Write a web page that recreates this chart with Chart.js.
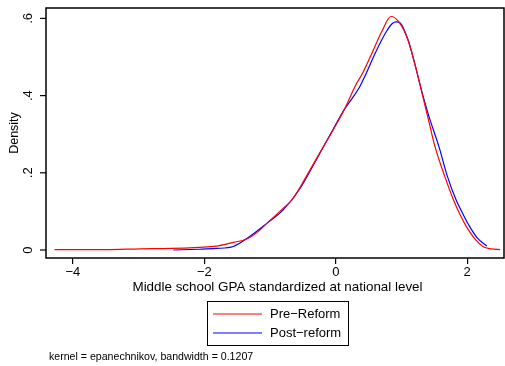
<!DOCTYPE html>
<html>
<head>
<meta charset="utf-8">
<script src="https://cdn.jsdelivr.net/npm/chart.js@4/dist/chart.umd.min.js"></script>
<style>
  html, body { margin: 0; padding: 0; background: #fff; }
  #wrap { width: 505px; height: 366px; }
</style>
</head>
<body>
<div id="wrap"><canvas id="grafico"></canvas></div>
<script>
// values
const preX = [-4.28, -3.5, -2.98, -2.5, -2.08, -1.82, -1.56, -1.36, -1.2, -1.05, -0.85, -0.65, -0.45, -0.27, -0.04, 0.14, 0.29, 0.42, 0.55, 0.7, 0.84, 0.96, 1.1, 1.2, 1.3, 1.4, 1.51, 1.66, 1.79, 1.89, 1.99, 2.12, 2.24, 2.36, 2.5];
const preY = [0.001, 0.001, 0.003, 0.004, 0.007, 0.010, 0.020, 0.028, 0.045, 0.069, 0.100, 0.134, 0.190, 0.244, 0.311, 0.367, 0.423, 0.462, 0.510, 0.566, 0.605, 0.591, 0.544, 0.484, 0.415, 0.345, 0.268, 0.190, 0.130, 0.092, 0.060, 0.028, 0.009, 0.003, 0.001];
const postX = [-2.47, -2.08, -1.82, -1.56, -1.31, -1.05, -0.8, -0.55, -0.29, -0.04, 0.14, 0.25, 0.365, 0.44, 0.6, 0.77, 0.86, 0.92, 0.98, 1.1, 1.2, 1.3, 1.42, 1.57, 1.7, 1.83, 1.93, 2.04, 2.16, 2.3];
const postY = [0.0, 0.002, 0.004, 0.009, 0.035, 0.069, 0.104, 0.158, 0.236, 0.313, 0.367, 0.393, 0.423, 0.449, 0.510, 0.566, 0.587, 0.591, 0.588, 0.544, 0.484, 0.417, 0.345, 0.268, 0.190, 0.130, 0.095, 0.060, 0.030, 0.010];
const seriesNames = ['Pre\u2212Reform', 'Post\u2212reform'];
const xTicks = [-4, -2, 0, 2];
const yTicks = [0, 0.2, 0.4, 0.6];
const yTickLabels = ['0', '.2', '.4', '.6'];
const xTitle = 'Middle school GPA standardized at national level';
const yTitle = 'Density';
const note = 'kernel = epanechnikov, bandwidth = 0.1207';

const FONT = '"Liberation Sans", Arial, Helvetica, sans-serif';

function pares(xs, ys) {
    return xs.map((x, i) => ({ x: x, y: ys[i] }));
}

const extras = {
    id: 'extras',
    afterDraw(chart) {
        const c = chart.ctx;
        const a = chart.chartArea;
        const ys = chart.scales.y;
        c.save();
        // box round the plot
        c.strokeStyle = '#000';
        c.lineWidth = 1.5;
        c.strokeRect(a.left, a.top, a.right - a.left, a.bottom - a.top);

        // y ticks, rotated labels
        c.fillStyle = '#000';
        c.font = '13px ' + FONT;
        c.textAlign = 'center';
        c.textBaseline = 'middle';
        yTicks.forEach((v, i) => {
            const py = ys.getPixelForValue(v);
            c.beginPath();
            c.moveTo(a.left - 6, py);
            c.lineTo(a.left, py);
            c.lineWidth = 1.2;
            c.stroke();
            c.save();
            c.translate(a.left - 18, py);
            c.rotate(-Math.PI / 2);
            c.fillText(yTickLabels[i], 0, 0);
            c.restore();
        });
        // y title
        c.save();
        c.font = '12.5px ' + FONT;
        c.translate(15, (a.top + a.bottom) / 2);
        c.rotate(-Math.PI / 2);
        c.fillText(yTitle, 0, 0);
        c.restore();

        // x title
        c.font = '13.4px ' + FONT;
        c.fillText(xTitle, 277.5, 287);

        // legend
        c.lineWidth = 1;
        c.strokeRect(207.5, 301.5, 141, 44);
        c.font = '13px ' + FONT;
        c.textAlign = 'left';
        const rows = [314, 333];
        chart.data.datasets.forEach((ds, i) => {
            c.strokeStyle = ds.borderColor;
            c.lineWidth = 1.2;
            c.beginPath();
            c.moveTo(213, rows[i]);
            c.lineTo(262, rows[i]);
            c.stroke();
            c.fillStyle = '#000';
            c.fillText(ds.label, 270, rows[i] + 0.5);
        });

        // note
        c.font = '10.6px ' + FONT;
        c.fillText(note, 49, 357);
        c.restore();
    }
};

const ctx = document.getElementById('grafico').getContext('2d');
const grafico = new Chart(ctx, {
    type: 'line',
    data: {
        datasets: [{
            label: seriesNames[0],
            data: pares(preX, preY),
            borderColor: '#ff0000',
            borderWidth: 1.2,
            pointRadius: 0,
            cubicInterpolationMode: 'monotone'
        }, {
            label: seriesNames[1],
            data: pares(postX, postY),
            borderColor: '#0000ff',
            borderWidth: 1.2,
            pointRadius: 0,
            cubicInterpolationMode: 'monotone'
        }]
    },
    options: {
        responsive: true,
        maintainAspectRatio: false,
        animation: false,
        layout: { padding: { left: 0, right: 1, top: 8, bottom: 0 } },
        plugins: {
            legend: { display: false },
            tooltip: { enabled: false }
        },
        scales: {
            x: {
                type: 'linear',
                min: -4.41,
                max: 2.56,
                afterFit: (s) => { s.height = 108; },
                afterBuildTicks: (s) => { s.ticks = xTicks.map(v => ({ value: v })); },
                grid: { display: true, drawOnChartArea: false, tickLength: 6, color: '#000', lineWidth: 1.2 },
                border: { display: false },
                ticks: {
                    color: '#000',
                    font: { family: FONT, size: 13 },
                    padding: 1,
                    maxRotation: 0,
                    callback: (v) => String(v).replace('-', '\u2212')
                }
            },
            y: {
                type: 'linear',
                min: -0.0207,
                max: 0.627,
                afterFit: (s) => { s.width = 46; },
                grid: { display: false },
                border: { display: false },
                ticks: { display: false }
            }
        }
    },
    plugins: [extras]
});
</script>
</body>
</html>
